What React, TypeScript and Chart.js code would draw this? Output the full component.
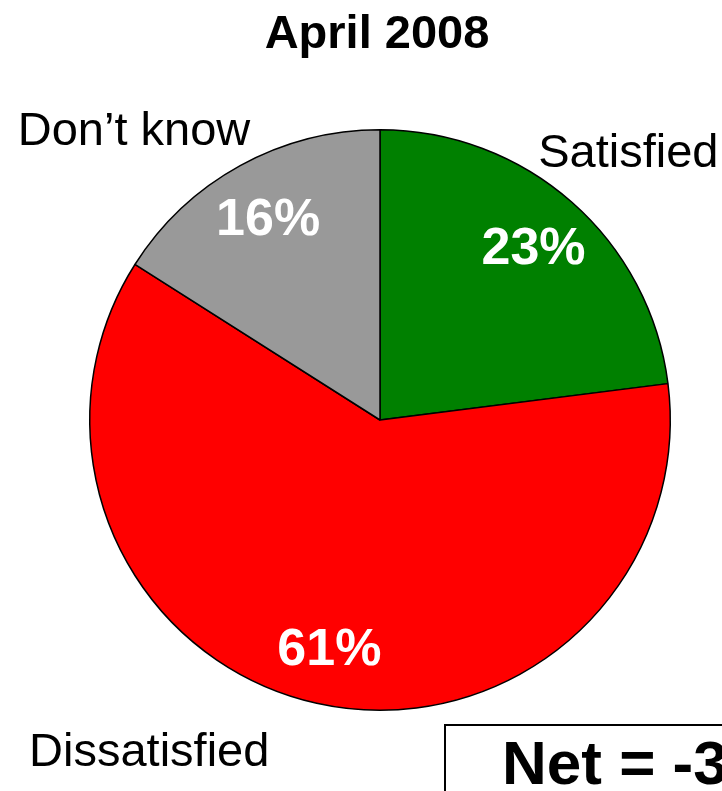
import React, { useEffect, useRef } from "react";
import { Chart, registerables } from "chart.js";

Chart.register(...registerables);

const categories = ["Satisfied", "Dissatisfied", "Don\u2019t know"];
const values = [23, 61, 16];
const colors = ["#008000", "#ff0000", "#999999"];
const titleText = "April 2008";
const netText = "Net = -38";

const FONT = "'Liberation Sans', Arial, Helvetica, sans-serif";

const labelPlugin = {
  id: "pieLabels",
  afterDraw(chart: any) {
    const ctx = chart.ctx;
    const meta = chart.getDatasetMeta(0);
    ctx.save();
    // percentage labels inside slices
    ctx.fillStyle = "#ffffff";
    ctx.font = `bold 52px ${FONT}`;
    ctx.textAlign = "center";
    ctx.textBaseline = "alphabetic";
    meta.data.forEach((arc: any, i: number) => {
      const { x, y, startAngle, endAngle, outerRadius } = arc.getProps(
        ["x", "y", "startAngle", "endAngle", "outerRadius"],
        true
      );
      const mid = (startAngle + endAngle) / 2;
      const r = outerRadius * 0.8;
      const cx = x + Math.cos(mid) * r;
      const cy = y + Math.sin(mid) * r;
      ctx.fillText(values[i] + "%", cx, cy + 18);
    });

    // category labels outside
    const arc0 = meta.data[0];
    const { x: px, y: py, outerRadius: R } = arc0.getProps(["x", "y", "outerRadius"], true);
    ctx.fillStyle = "#000000";
    ctx.font = `47px ${FONT}`;
    ctx.textAlign = "left";
    ctx.fillText(categories[0], px + R * 0.545, py - R * 0.873);
    ctx.fillText(categories[1], px - R * 1.209, py + R * 1.192);
    ctx.fillText(categories[2], px - R * 1.248, py - R * 0.948);

    // title
    ctx.font = `bold 47px ${FONT}`;
    ctx.textAlign = "center";
    ctx.fillText(titleText, px - 3, 48);

    // net box
    ctx.lineWidth = 2;
    ctx.strokeStyle = "#000000";
    ctx.strokeRect(445, 725, 400, 200);
    ctx.font = `bold 62px ${FONT}`;
    ctx.textAlign = "left";
    ctx.fillText(netText, 502, 784);
    ctx.restore();
  },
};

export default function App() {
  const ref = useRef<HTMLCanvasElement | null>(null);
  useEffect(() => {
    document.body.style.margin = "0";
    const chart = new Chart(ref.current as HTMLCanvasElement, {
      type: "pie",
      data: {
        labels: categories,
        datasets: [
          {
            data: values,
            backgroundColor: colors,
            borderColor: "#000000",
            borderWidth: 1.5,
          },
        ],
      },
      options: {
        responsive: false,
        animation: false,
        layout: { padding: { left: 89, right: 51, top: 129, bottom: 80 } },
        plugins: {
          legend: { display: false },
          tooltip: { enabled: false },
          title: { display: false },
        },
      },
      plugins: [labelPlugin],
    });
    return () => chart.destroy();
  }, []);
  return (
    <div style={{ position: "absolute", left: 0, top: 0, width: 722, height: 791, background: "#fff" }}>
      <canvas ref={ref} width={722} height={791} style={{ display: "block" }} />
    </div>
  );
}
